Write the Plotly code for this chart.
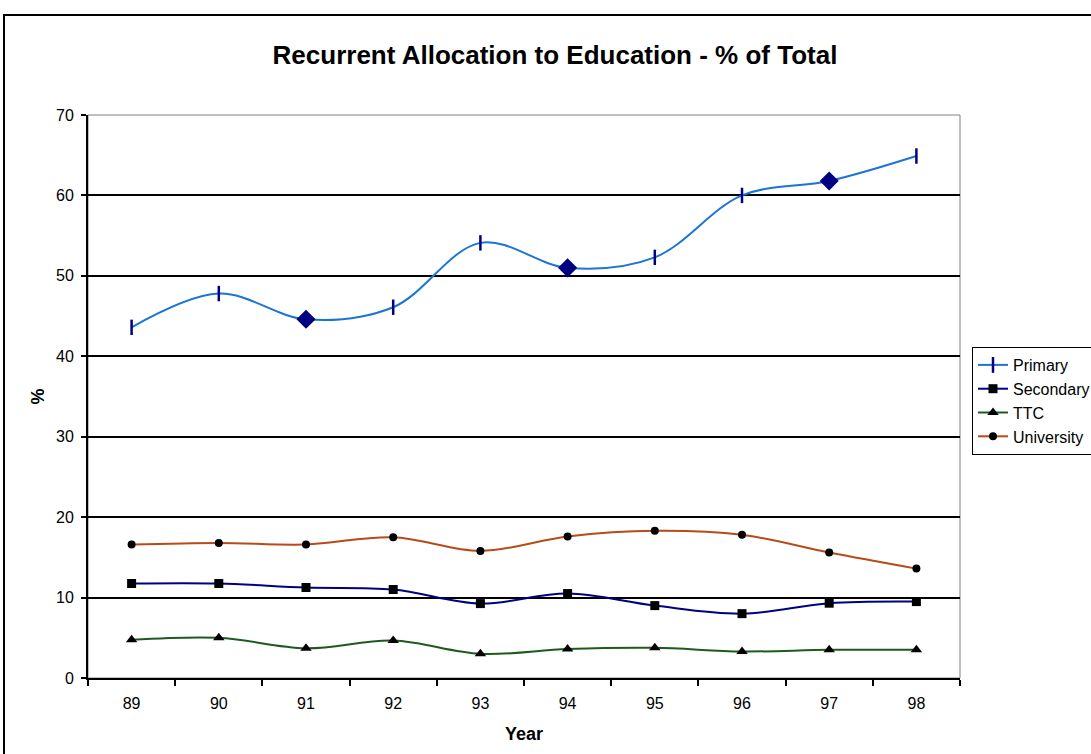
import plotly.graph_objects as go

years = ["89", "90", "91", "92", "93", "94", "95", "96", "97", "98"]
primary = [43.6, 47.8, 44.6, 46.1, 54.1, 51.0, 52.3, 60.0, 61.8, 64.9]
secondary = [11.75, 11.75, 11.25, 11.0, 9.25, 10.5, 9.0, 8.0, 9.3, 9.5]
ttc = [4.75, 5.0, 3.7, 4.65, 3.0, 3.6, 3.75, 3.3, 3.5, 3.5]
university = [16.6, 16.8, 16.6, 17.5, 15.8, 17.6, 18.3, 17.8, 15.6, 13.6]
primary_symbols = ["line-ns", "line-ns", "diamond", "line-ns", "line-ns",
                   "diamond", "line-ns", "line-ns", "diamond", "line-ns"]

W, H = 1091, 754
L, R, T, B = 88, 131, 115, 76
pw, ph = W - L - R, H - T - B

FONT = "Liberation Sans, Arial, sans-serif"
NAVY = "#000080"

fig = go.Figure()
fig.add_trace(go.Scatter(
    x=years, y=primary, name="Primary", mode="lines+markers",
    line=dict(color="#1C74D4", width=2, shape="spline", smoothing=1),
    marker=dict(symbol=primary_symbols, size=[11 if s == "line-ns" else 12 for s in primary_symbols],
                color=NAVY, opacity=1, line=dict(color=NAVY, width=2.5))))
fig.add_trace(go.Scatter(
    x=years, y=secondary, name="Secondary", mode="lines+markers",
    line=dict(color=NAVY, width=2, shape="spline", smoothing=1),
    marker=dict(symbol="square", size=9, color="black", opacity=1)))
fig.add_trace(go.Scatter(
    x=years, y=ttc, name="TTC", mode="lines+markers",
    line=dict(color="#1E5A1E", width=2, shape="spline", smoothing=1),
    marker=dict(symbol="triangle-up", size=10, color="black", opacity=1)))
fig.add_trace(go.Scatter(
    x=years, y=university, name="University", mode="lines+markers",
    line=dict(color="#B84A18", width=2, shape="spline", smoothing=1),
    marker=dict(symbol="circle", size=8, color="black", opacity=1)))

shapes = [
    # plot area border (gray)
    dict(type="rect", xref="paper", yref="paper", x0=0, x1=1, y0=0, y1=1,
         line=dict(color="#808080", width=1), layer="below"),
    # outer chart border
    dict(type="rect", xref="paper", yref="paper",
         x0=(4 - L) / pw, x1=(1110 - L) / pw,
         y0=(H - B - 770) / ph, y1=(H - B - 15) / ph,
         line=dict(color="black", width=2), layer="below"),
]

fig.update_layout(
    width=W, height=H,
    margin=dict(l=L, r=R, t=T, b=B, autoexpand=False),
    paper_bgcolor="white", plot_bgcolor="white",
    font=dict(family=FONT, size=16, color="black"),
    title=dict(text="<b>Recurrent Allocation to Education - % of Total</b>",
               font=dict(family=FONT, size=26, color="black"),
               x=555 / W, xanchor="center", xref="container",
               y=1 - 55 / H, yanchor="middle", yref="container"),
    showlegend=True,
    legend=dict(x=(972 - L) / pw, xanchor="left", y=(H - B - 347) / ph, yanchor="top",
                bordercolor="black", borderwidth=1, bgcolor="white",
                font=dict(family=FONT, size=16, color="black"),
                tracegroupgap=0, itemwidth=30),
    shapes=shapes,
    xaxis=dict(type="category", range=[-0.5, 9.5], tickson="boundaries",
               ticks="outside", ticklen=6, tickwidth=1.5, tickcolor="black",
               showline=True, linecolor="black", linewidth=2,
               showgrid=False, tickfont=dict(size=16), ticklabelstandoff=10,
               title=dict(text="<b>Year</b>", font=dict(size=18), standoff=16)),
    yaxis=dict(range=[0, 70], dtick=10, ticks="outside", ticklen=5, tickwidth=1.5,
               tickcolor="black", showline=True, linecolor="black", linewidth=2,
               showgrid=True, gridcolor="black", gridwidth=1.5, zeroline=False,
               tickfont=dict(size=16), ticklabelstandoff=4,
               title=dict(text="<b>%</b>", font=dict(size=18), standoff=7)),
)

fig.write_html("out.html")
